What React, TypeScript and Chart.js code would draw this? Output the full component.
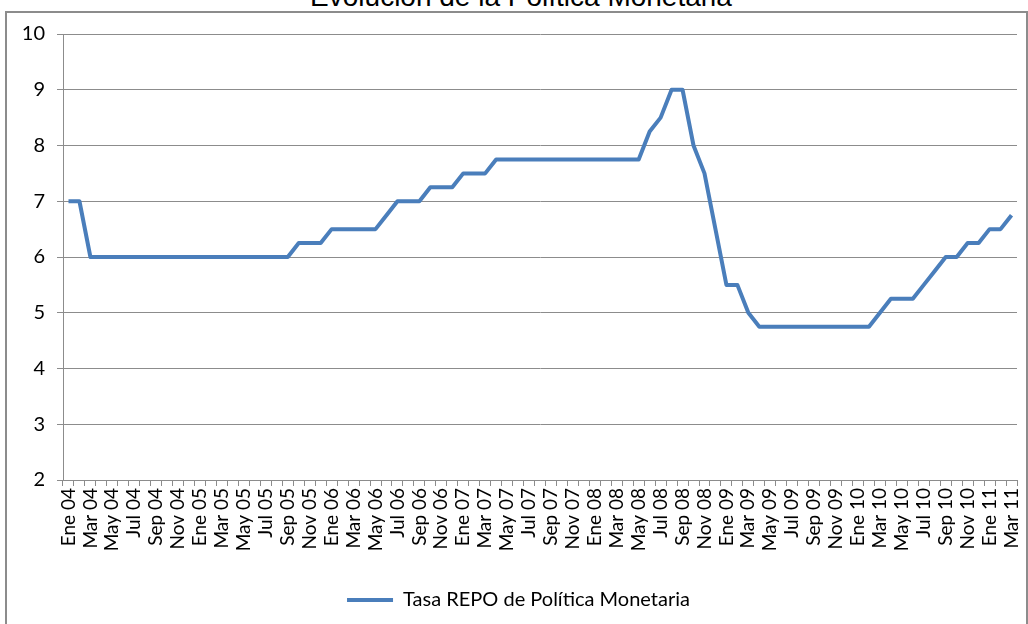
import React, { useEffect, useRef } from "react";
import { Chart, registerables } from "chart.js";

Chart.register(...registerables);

const TITLE = "Evolución de la Política Monetaria";
const SERIES_LABEL = "Tasa REPO de Política Monetaria";

const categories = [
  "Ene 04", "Feb 04", "Mar 04", "Abr 04", "May 04", "Jun 04", "Jul 04", "Ago 04", "Sep 04", "Oct 04", "Nov 04", "Dic 04",
  "Ene 05", "Feb 05", "Mar 05", "Abr 05", "May 05", "Jun 05", "Jul 05", "Ago 05", "Sep 05", "Oct 05", "Nov 05", "Dic 05",
  "Ene 06", "Feb 06", "Mar 06", "Abr 06", "May 06", "Jun 06", "Jul 06", "Ago 06", "Sep 06", "Oct 06", "Nov 06", "Dic 06",
  "Ene 07", "Feb 07", "Mar 07", "Abr 07", "May 07", "Jun 07", "Jul 07", "Ago 07", "Sep 07", "Oct 07", "Nov 07", "Dic 07",
  "Ene 08", "Feb 08", "Mar 08", "Abr 08", "May 08", "Jun 08", "Jul 08", "Ago 08", "Sep 08", "Oct 08", "Nov 08", "Dic 08",
  "Ene 09", "Feb 09", "Mar 09", "Abr 09", "May 09", "Jun 09", "Jul 09", "Ago 09", "Sep 09", "Oct 09", "Nov 09", "Dic 09",
  "Ene 10", "Feb 10", "Mar 10", "Abr 10", "May 10", "Jun 10", "Jul 10", "Ago 10", "Sep 10", "Oct 10", "Nov 10", "Dic 10",
  "Ene 11", "Feb 11", "Mar 11",
];

const repoRate = [
  7, 7, 6, 6, 6, 6, 6, 6, 6, 6, 6, 6,
  6, 6, 6, 6, 6, 6, 6, 6, 6, 6.25, 6.25, 6.25,
  6.5, 6.5, 6.5, 6.5, 6.5, 6.75, 7, 7, 7, 7.25, 7.25, 7.25,
  7.5, 7.5, 7.5, 7.75, 7.75, 7.75, 7.75, 7.75, 7.75, 7.75, 7.75, 7.75,
  7.75, 7.75, 7.75, 7.75, 7.75, 8.25, 8.5, 9, 9, 8, 7.5, 6.5,
  5.5, 5.5, 5, 4.75, 4.75, 4.75, 4.75, 4.75, 4.75, 4.75, 4.75, 4.75,
  4.75, 4.75, 5, 5.25, 5.25, 5.25, 5.5, 5.75, 6, 6, 6.25, 6.25,
  6.5, 6.5, 6.75,
];

const Y_MIN = 2;
const Y_MAX = 10;
const Y_STEP = 1;

const FONT_FAMILY = "Lato, 'Open Sans', sans-serif";
const LINE_COLOR = "#4A7EBB";
const GRID_COLOR = "#8C8C8C";

export default function App() {
  const canvasRef = useRef<HTMLCanvasElement | null>(null);

  useEffect(() => {
    const canvas = canvasRef.current;
    if (!canvas) return;
    const chart = new Chart(canvas, {
      type: "line",
      data: {
        labels: categories,
        datasets: [
          {
            label: SERIES_LABEL,
            data: repoRate,
            borderColor: LINE_COLOR,
            backgroundColor: LINE_COLOR,
            borderWidth: 4,
            pointRadius: 0,
            pointHoverRadius: 0,
            tension: 0,
            fill: false,
            borderJoinStyle: "round",
          },
        ],
      },
      options: {
        animation: false,
        responsive: false,
        maintainAspectRatio: false,
        layout: { padding: { left: 20, right: 11, top: 34, bottom: 4 } },
        plugins: {
          title: { display: false },
          tooltip: { enabled: false },
          legend: {
            position: "bottom",
            labels: {
              usePointStyle: true,
              pointStyle: "line",
              pointStyleWidth: 46,
              color: "#000",
              padding: 10,
              font: { family: FONT_FAMILY, size: 20 },
            },
          },
        },
        scales: {
          x: {
            type: "category",
            offset: true,
            grid: {
              offset: true,
              drawOnChartArea: false,
              drawTicks: true,
              tickLength: 6,
              color: GRID_COLOR,
            },
            border: { color: GRID_COLOR, width: 1 },
            ticks: {
              autoSkip: false,
              minRotation: 90,
              maxRotation: 90,
              padding: 2,
              color: "#000",
              font: { family: FONT_FAMILY, size: 19 },
              callback: (_v: any, i: number) => (i % 2 === 0 ? categories[i] : ""),
            },
            afterFit: (s: any) => {
              s.height = 100;
              s.paddingRight = 0;
              s.paddingLeft = 0;
            },
          },
          y: {
            min: Y_MIN,
            max: Y_MAX,
            ticks: {
              stepSize: Y_STEP,
              padding: 12,
              color: "#000",
              font: { family: FONT_FAMILY, size: 20 },
            },
            grid: { color: GRID_COLOR, tickLength: 6 },
            border: { color: GRID_COLOR, width: 1 },
            afterFit: (s: any) => {
              s.width = 43;
            },
          },
        },
      },
    });
    return () => chart.destroy();
  }, []);

  return (
    <div style={{ position: "fixed", left: 0, top: 0, width: 1028, height: 624, overflow: "hidden", background: "#fff" }}>
      <div
        style={{
          position: "absolute",
          left: 5,
          top: 11,
          width: 1019,
          height: 700,
          border: "2px solid #8C8C8C",
        }}
      />
      <div
        style={{
          position: "absolute",
          left: 0,
          width: 1042,
          top: -17,
          textAlign: "center",
          fontFamily: "'Liberation Sans', Arial, sans-serif",
          fontSize: 28,
          lineHeight: "28px",
          color: "#000",
          whiteSpace: "nowrap",
        }}
      >
        {TITLE}
      </div>
      <canvas ref={canvasRef} width={1028} height={624} style={{ position: "absolute", left: 0, top: 0, width: 1028, height: 624 }} />
    </div>
  );
}
